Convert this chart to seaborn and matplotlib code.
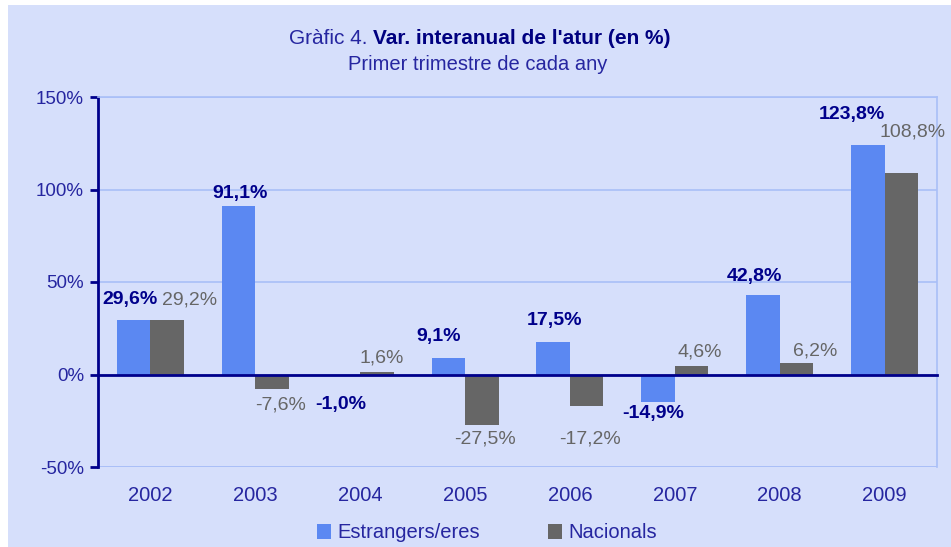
import matplotlib
matplotlib.use("Agg")
import matplotlib.pyplot as plt
from matplotlib.patches import Rectangle, Patch
import seaborn as sns
import pandas as pd

# ── dades ──
anys = ["2002", "2003", "2004", "2005", "2006", "2007", "2008", "2009"]
estrangers = [29.6, 91.1, -1.0, 9.1, 17.5, -14.9, 42.8, 123.8]
nacionals = [29.2, -7.6, 1.6, -27.5, -17.2, 4.6, 6.2, 108.8]
series = ["Estrangers/eres", "Nacionals"]

# desplaçament de les etiquetes (px) respecte l'extrem de la barra
off_e = [(-4, 20), (2, 12), (-3, -28), (-10, 21), (1, 22), (-5, -11), (-8, 19), (-16, 31)]
off_n = [(22, 20), (8, -16), (5, 14), (3, -14), (3, -33), (8, 14), (19, 12), (11, 41)]

BG = "#D6DFFB"
GRID = "#A9BFF7"
NAVY = "#00008B"
TXT = "#2626A0"
C_E, C_N = "#5B88F2", "#666666"

df = pd.DataFrame({
    "any": anys * 2,
    "valor": estrangers + nacionals,
    "serie": [series[0]] * len(anys) + [series[1]] * len(anys),
})

sns.set_style("white")
plt.rcParams["font.family"] = ["Liberation Sans", "DejaVu Sans"]

fig = plt.figure(figsize=(9.51, 5.47), dpi=100, facecolor="white")
fig.patches.append(Rectangle((8 / 951, 0), 1, 1 - 5 / 547, transform=fig.transFigure,
                             facecolor=BG, edgecolor="none", zorder=-10))
ax = fig.add_axes([98 / 951, 80 / 547, (937 - 98) / 951, (467 - 97) / 547])
ax.set_facecolor(BG)

sns.barplot(data=df, x="any", y="valor", hue="serie", palette=[C_E, C_N],
            width=0.64, gap=0, saturation=1, linewidth=0, ax=ax, legend=False, zorder=3)

ax.set_ylim(-50, 150)
ax.set_xlim(-0.5, len(anys) - 0.5)
ax.set_yticks([-50, 0, 50, 100, 150])
ax.set_yticklabels([f"{v}%" for v in [-50, 0, 50, 100, 150]], color=TXT, fontsize=13.5)
ax.tick_params(axis="y", direction="out", length=6, width=2, color=NAVY, pad=4, left=True)
ax.grid(axis="y", color=GRID, linewidth=1.2, zorder=0)
ax.set_xlabel("")
ax.set_ylabel("")

for s in ["top", "right"]:
    ax.spines[s].set_color(GRID)
    ax.spines[s].set_linewidth(1.2)
ax.spines["left"].set_color(NAVY)
ax.spines["left"].set_linewidth(2)
ax.spines["bottom"].set_position(("data", 0))
ax.spines["bottom"].set_color(NAVY)
ax.spines["bottom"].set_linewidth(2)
ax.spines["bottom"].set_zorder(5)
ax.axhline(-50, color=GRID, linewidth=1.2, zorder=1)

# marques entre categories
ax.set_xticks([i + 0.5 for i in range(len(anys))], minor=True)
ax.set_xticks([])
ax.tick_params(axis="x", which="minor", direction="out", length=6, width=2, color=NAVY)
for i, a in enumerate(anys):
    ax.text(i, -65.5, a, ha="center", va="center", color=TXT, fontsize=14.5)

# etiquetes de dades
for cont, vals, offs, col, wt in [(ax.containers[0], estrangers, off_e, NAVY, "bold"),
                                  (ax.containers[1], nacionals, off_n, C_N, "normal")]:
    for bar, v, (dx, dy) in zip(cont, vals, offs):
        x = bar.get_x() + bar.get_width() / 2
        ax.annotate(f"{v:.1f}%".replace(".", ","), (x, v), xytext=(dx, dy),
                    textcoords="offset pixels", ha="center", va="center",
                    color=col, fontsize=14, fontweight=wt, zorder=6)

# títol
fig.text(373 / 951, 1 - 38 / 547, "Gràfic 4. ", ha="right", va="center", color=TXT, fontsize=15)
fig.text(373 / 951, 1 - 38 / 547, "Var. interanual de l'atur (en %)", ha="left", va="center",
         color="#000080", fontsize=15, fontweight="bold")
fig.text(478 / 951, 1 - 64 / 547, "Primer trimestre de cada any", ha="center", va="center",
         color=TXT, fontsize=14.5)

handles = [Patch(facecolor=C_E, edgecolor="none"), Patch(facecolor=C_N, edgecolor="none")]
fig.legend(handles, series, loc="center", bbox_to_anchor=(487 / 951, 1 - 533 / 547), ncol=2,
           frameon=False, fontsize=14.5, handlelength=0.7, handleheight=0.7, handletextpad=0.3,
           columnspacing=3.4, labelcolor=TXT, borderaxespad=0)

fig.savefig("out.png", dpi=100, facecolor=fig.get_facecolor())
